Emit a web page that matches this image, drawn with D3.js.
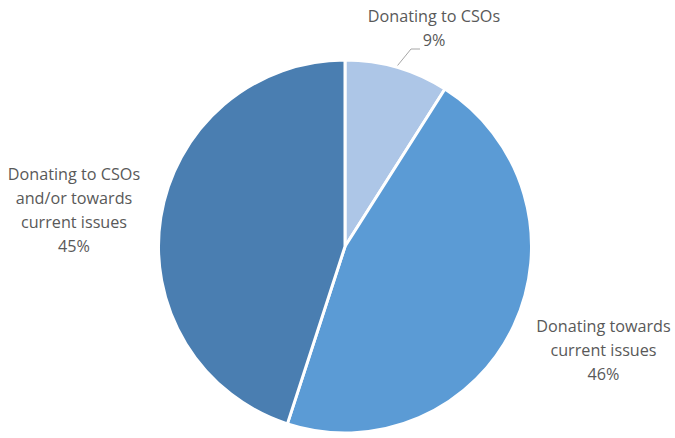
<!DOCTYPE html>
<html>
<head>
<meta charset="utf-8">
<script src="https://cdn.jsdelivr.net/npm/d3@7"></script>
<style>
  html, body { margin: 0; padding: 0; background: #fff; }
  svg text { font-family: "Open Sans", "Liberation Sans", sans-serif; fill: #595959; }
</style>
</head>
<body>
<svg id="chart" width="675" height="438"></svg>
<script>
// Share of respondents by type of donation
const categories = ["Donating to CSOs", "Donating towards current issues", "Donating to CSOs and/or towards current issues"];
const values = [9, 46, 45];
const colors = ["#adc6e7", "#5b9bd5", "#4a7eb1"];
// Label text, broken into lines as shown beside each slice
const labelLines = [
  ["Donating to CSOs", "9%"],
  ["Donating towards", "current issues", "46%"],
  ["Donating to CSOs", "and/or towards", "current issues", "45%"]
];

const svg = d3.select("#chart");
const cx = 345, cy = 246.5, r = 186.5;

const pie = d3.pie().sort(null).value(d => d)(values);
const arc = d3.arc().innerRadius(0).outerRadius(r);

const g = svg.append("g").attr("transform", `translate(${cx},${cy})`);
g.selectAll("path")
  .data(pie)
  .join("path")
  .attr("d", arc)
  .attr("fill", (d, i) => colors[i])
  .attr("stroke", "#fff")
  .attr("stroke-width", 3)
  .attr("stroke-linejoin", "round");

// Label anchors (centre x, first baseline y) relative to the page
const labelPos = [
  { x: 434, y: 22 },
  { x: 603.5, y: 332 },
  { x: 74, y: 180 }
];
const lineH = 24;

labelLines.forEach((lines, i) => {
  const t = svg.append("text")
    .attr("text-anchor", "middle")
    .attr("font-size", 16.2);
  lines.forEach((s, j) => {
    t.append("tspan").attr("x", labelPos[i].x).attr("y", labelPos[i].y + j * lineH).text(s);
  });
});

// Leader line from the middle of the small slice to its label
const mid = (pie[0].startAngle + pie[0].endAngle) / 2;
const p0 = [cx + Math.sin(mid) * (r + 2), cy - Math.cos(mid) * (r + 2)];
svg.append("polyline")
  .attr("points", [[p0[0], p0[1]], [411, 49], [420, 49]].map(p => p.join(",")).join(" "))
  .attr("fill", "none")
  .attr("stroke", "#a6a6a6")
  .attr("stroke-width", 1);
</script>
</body>
</html>
